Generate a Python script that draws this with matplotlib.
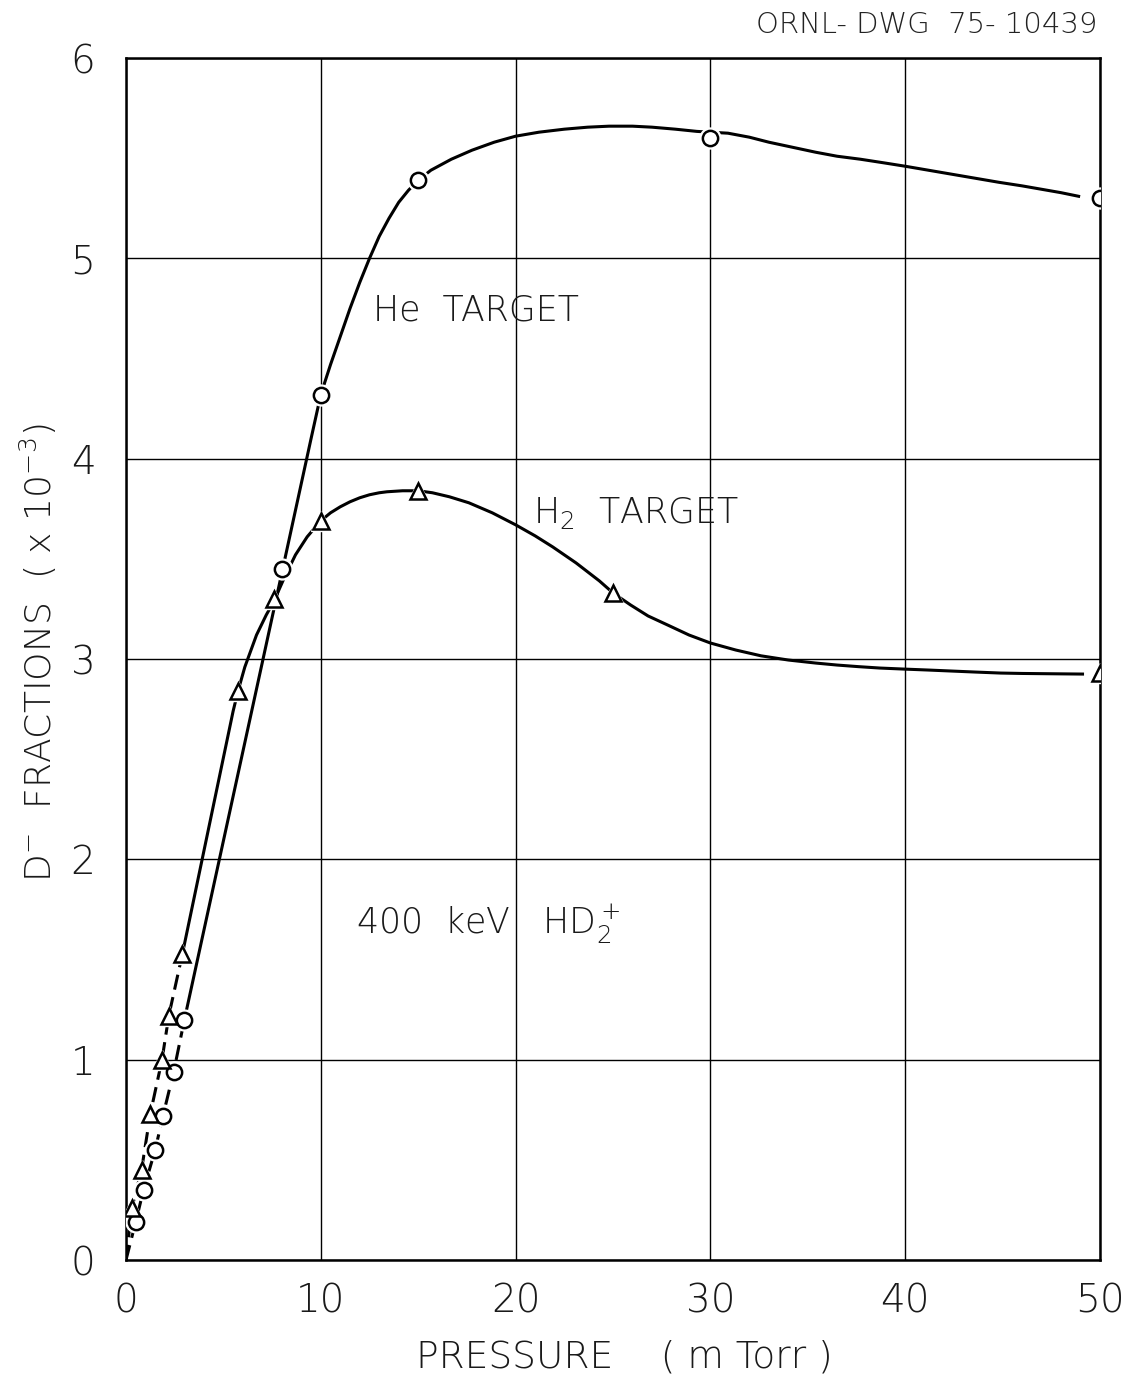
import matplotlib
matplotlib.use("Agg")
import matplotlib.pyplot as plt

# ---- data ----
# He target measured points (circles)
he_x = [0.5, 0.9, 1.5, 1.9, 2.45, 3.0, 8.0, 10, 15, 30, 50]
he_y = [0.19, 0.35, 0.55, 0.72, 0.94, 1.20, 3.45, 4.32, 5.39, 5.60, 5.30]
# H2 target measured points (triangles)
h2_x = [0.3, 0.8, 1.25, 1.85, 2.2, 2.9, 5.75, 7.6, 10, 15, 25, 50]
h2_y = [0.26, 0.45, 0.73, 1.00, 1.22, 1.53, 2.84, 3.30, 3.69, 3.84, 3.33, 2.93]

# hand-drawn curves
he_low_x = [0.0, 0.5, 0.9, 1.5, 1.9, 2.45, 3.0]
he_low_y = [0.0, 0.19, 0.35, 0.55, 0.72, 0.94, 1.20]
he_curve_x = [3.0, 8.0, 9.5, 10.0, 10.5, 11.0, 11.5, 12.0, 12.5, 13.0, 13.5, 14.0, 14.5, 15.0,
              15.65, 16.7, 17.76, 18.9, 20.0, 21.2, 22.5, 23.7, 24.8, 26.0, 27.0, 28.2,
              29.3, 30.0, 30.9, 32.0, 33.0, 34.2, 35.4, 36.5, 37.7, 38.9, 40.0, 41.2,
              42.4, 43.6, 44.8, 46.0, 47.0, 48.0, 48.9]
he_curve_y = [1.20, 3.43, 4.10, 4.32, 4.47, 4.61, 4.75, 4.88, 5.00, 5.11, 5.20, 5.28, 5.34, 5.39,
              5.44, 5.495, 5.54, 5.58, 5.61, 5.63, 5.645, 5.655, 5.66, 5.66, 5.655, 5.645,
              5.634, 5.63, 5.625, 5.605, 5.58, 5.555, 5.53, 5.51, 5.495, 5.477, 5.46, 5.44,
              5.42, 5.40, 5.38, 5.362, 5.345, 5.328, 5.31]
h2_low_x = [0.0, 0.3, 0.8, 1.25, 1.85, 2.2, 2.9]
h2_low_y = [0.0, 0.26, 0.45, 0.73, 1.00, 1.22, 1.53]
h2_curve_x = [2.9, 5.5, 5.75, 6.1, 6.7, 7.2, 7.6, 8.1, 8.7, 9.3, 10.0, 10.5, 11.0, 11.5, 12.0,
              12.5, 13.0, 13.4, 14.2, 15.0,
              15.73, 16.6, 17.6, 18.8, 20.0, 21.0, 21.9, 23.1, 24.3, 25.0, 25.9, 26.8,
              27.8, 28.9, 30.0, 31.3, 32.6, 34.0, 35.4, 36.5, 37.6, 38.7,
              39.9, 41.2, 42.4, 43.6, 44.9, 46.0, 47.0, 48.0, 49.1]
h2_curve_y = [1.53, 2.74, 2.84, 2.96, 3.12, 3.22, 3.29, 3.40, 3.52, 3.61, 3.69, 3.73, 3.76, 3.785,
              3.805, 3.82, 3.83, 3.835, 3.84, 3.84,
              3.83, 3.81, 3.78, 3.73, 3.67, 3.615, 3.56, 3.48, 3.39, 3.33, 3.27, 3.215,
              3.17, 3.12, 3.08, 3.045, 3.016, 2.995, 2.98, 2.97, 2.962, 2.955,
              2.95, 2.945, 2.94, 2.935, 2.93, 2.928, 2.927, 2.926, 2.925]

x_ticks = [0, 10, 20, 30, 40, 50]
y_ticks = [0, 1, 2, 3, 4, 5, 6]

plt.rcParams["font.family"] = ["DejaVu Sans"]
plt.rcParams["font.weight"] = "light"
plt.rcParams["mathtext.fontset"] = "dejavusans"
plt.rcParams["mathtext.default"] = "regular"

INK = "#1a1a1a"
fig = plt.figure(figsize=(11.37, 13.76), dpi=100)
ax = fig.add_axes([0.1108, 0.0843, 0.8567, 0.8735])
ax.set_xlim(0, 50)
ax.set_ylim(0, 6)
ax.set_xticks(x_ticks)
ax.set_yticks(y_ticks)
ax.grid(True, color="black", linewidth=1.0, zorder=0)
for s in ax.spines.values():
    s.set_linewidth(1.8)
ax.tick_params(length=0, labelsize=28, colors=INK)
ax.tick_params(axis="x", pad=16)
ax.tick_params(axis="y", pad=22)
ax.set_xticklabels([str(v) for v in x_ticks])
ax.set_yticklabels([str(v) for v in y_ticks])

lw = 2.2
# dashed low-pressure parts
ax.plot(he_low_x, he_low_y, color="black", lw=lw, dashes=(5, 2.5), zorder=2)
ax.plot(h2_low_x, h2_low_y, color="black", lw=lw, dashes=(5, 2.5), zorder=2)
# solid curves
ax.plot(he_curve_x, he_curve_y, color="black", lw=lw, zorder=2)
ax.plot(h2_curve_x, h2_curve_y, color="black", lw=lw, zorder=2)

# white halos to break lines at markers
ax.plot(he_x, he_y, "o", ms=15, mfc="white", mec="white", zorder=3)
ax.plot(h2_x, h2_y, "^", ms=15, mfc="white", mec="white", zorder=3)
# markers
ax.plot(he_x, he_y, "o", ms=11, mfc="white", mec="black", mew=1.8, zorder=4)
ax.plot(h2_x, h2_y, "^", ms=11, mfc="white", mec="black", mew=1.8, zorder=4)

# annotations
ax.text(12.7, 4.74, "He  TARGET", fontsize=25, ha="left", va="center", color=INK)
ax.text(20.9, 3.73, "H$_2$  TARGET", fontsize=25, ha="left", va="center", color=INK)
ax.text(11.8, 1.68, "400  keV   HD$_2^+$", fontsize=25, ha="left", va="center", color=INK)

fig.text(0.549, 0.0138, "PRESSURE    ( m Torr )", fontsize=27, ha="center", va="center",
         color=INK)
fig.text(0.0334, 0.526, "D$^{-}$  FRACTIONS  ( x 10$^{-3}$)", fontsize=26, ha="center",
         va="center", rotation=90, color=INK)

fig.text(0.9655, 0.982, "ORNL- DWG  75- 10439", fontsize=21, ha="right", va="center",
         color="#222222")

fig.savefig("out.png", dpi=100, facecolor="white")
